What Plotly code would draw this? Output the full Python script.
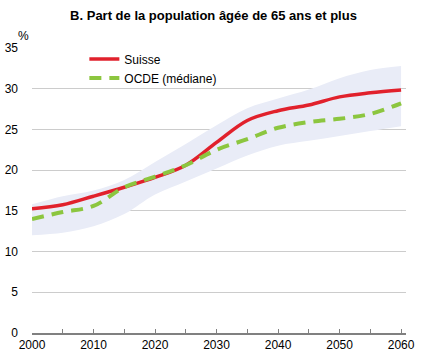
import plotly.graph_objects as go

years = [2000, 2005, 2010, 2015, 2020, 2025, 2030, 2035, 2040, 2045, 2050, 2055, 2060]
suisse = [15.25, 15.75, 16.8, 17.9, 19.1, 20.6, 23.4, 26.1, 27.3, 28.0, 29.0, 29.5, 29.85]
ocde_mediane = [14.0, 14.85, 15.6, 17.9, 19.2, 20.6, 22.5, 23.8, 25.2, 25.9, 26.3, 26.9, 28.2]
band_upper = [15.8, 16.8, 17.5, 18.8, 21.0, 23.2, 25.5, 27.6, 28.8, 29.9, 31.3, 32.3, 32.8]
band_lower = [12.0, 12.3, 13.1, 14.6, 17.0, 18.6, 20.2, 21.8, 23.0, 23.6, 24.2, 24.8, 25.4]
x_ticks = [2000, 2010, 2020, 2030, 2040, 2050, 2060]
y_ticks = [0, 5, 10, 15, 20, 25, 30, 35]

FONT = "Liberation Sans, Arial, sans-serif"
fig = go.Figure()
fig.add_trace(go.Scatter(x=years, y=band_lower, mode="lines", line=dict(width=0, shape="spline"),
                         showlegend=False, hoverinfo="skip"))
fig.add_trace(go.Scatter(x=years, y=band_upper, mode="lines", line=dict(width=0, shape="spline"),
                         fill="tonexty", fillcolor="#e9ecf7", showlegend=False, hoverinfo="skip"))
fig.add_trace(go.Scatter(x=years, y=suisse, mode="lines", name="Suisse",
                         line=dict(color="#e1212c", width=3.5, shape="spline")))
fig.add_trace(go.Scatter(x=years, y=ocde_mediane, mode="lines", name="OCDE (médiane)",
                         line=dict(color="#8cc63f", width=4, dash="12px,8px", shape="spline")))

fig.update_layout(
    width=427, height=360,
    margin=dict(l=32, r=21, t=48, b=27),
    paper_bgcolor="white", plot_bgcolor="white",
    font=dict(family=FONT, size=12, color="black"),
    title=dict(text="<b>B. Part de la population âgée de 65 ans et plus</b>",
               x=0.5, xanchor="center", y=0.958, yanchor="middle",
               font=dict(family=FONT, size=13, color="black")),
    legend=dict(x=0.14, y=1.012, xanchor="left", yanchor="top", bgcolor="rgba(0,0,0,0)",
                traceorder="normal", font=dict(family=FONT, size=12), tracegroupgap=0),
    xaxis=dict(range=[2000, 2060.8], tickvals=x_ticks, showgrid=False, zeroline=False,
               automargin=False, tickfont=dict(size=12),
               showline=True, linecolor="#808080", linewidth=1.5,
               ticks="inside", ticklen=4, tickcolor="#808080",
               minor=dict(dtick=5, tick0=2000, ticks="inside", ticklen=4, tickcolor="#808080")),
    yaxis=dict(range=[0, 35], tickvals=y_ticks, showgrid=True, gridcolor="#cccccc", gridwidth=1,
               automargin=False, tickfont=dict(size=12),
               zeroline=False, showline=False, ticks="", ticklabelstandoff=13),
)
fig.add_annotation(text="%", xref="paper", yref="paper", x=-0.003, y=1.0, xanchor="right",
                   yanchor="bottom", yshift=3, showarrow=False, font=dict(family=FONT, size=12))
fig.write_html("out.html", config={"displayModeBar": False},
               post_script="document.body.style.margin='0';")
